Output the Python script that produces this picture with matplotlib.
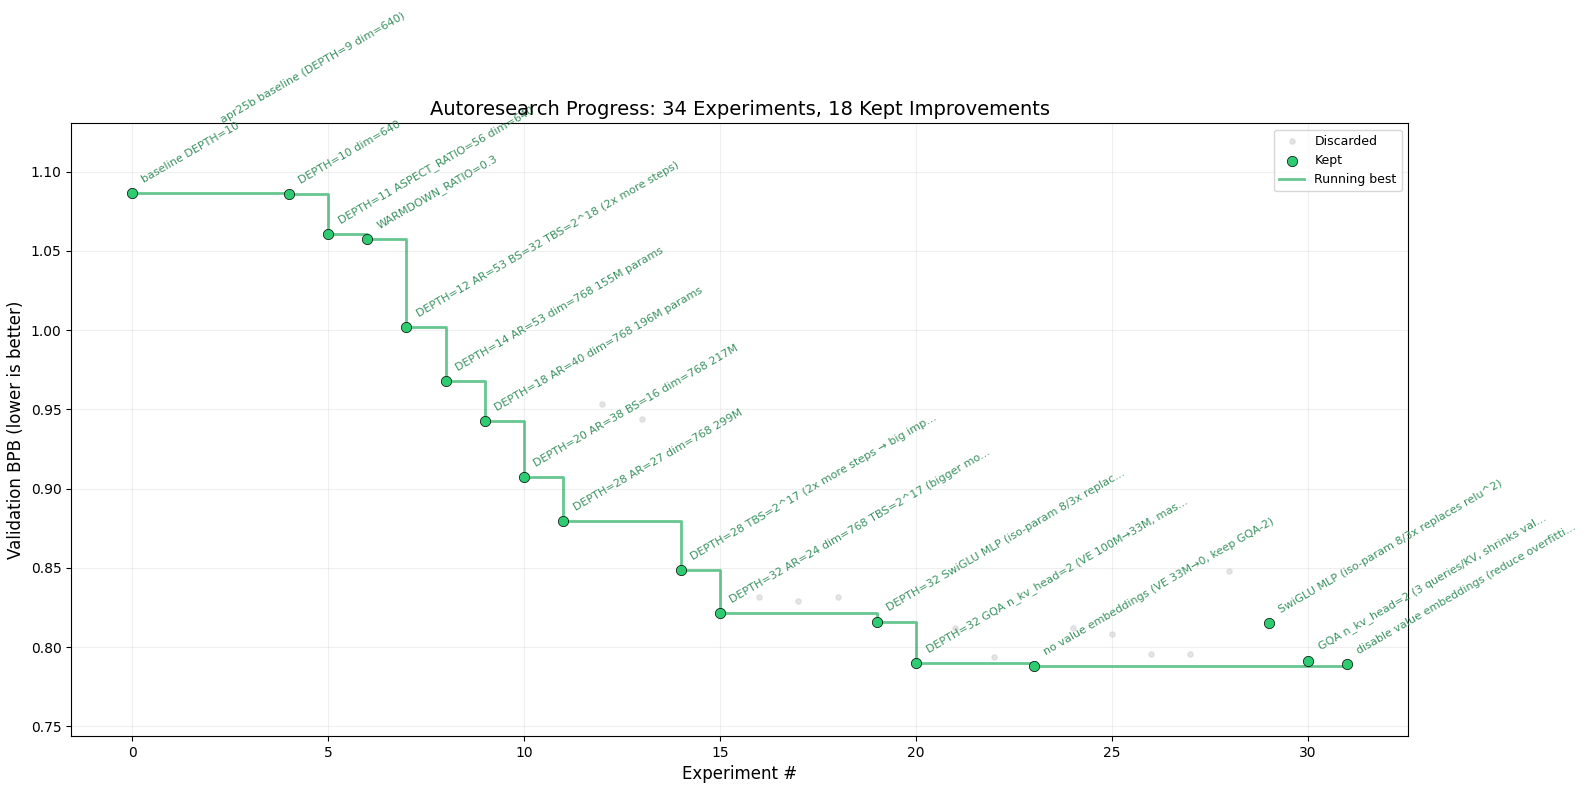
import numpy as np
import matplotlib
matplotlib.use("Agg")
import matplotlib.pyplot as plt

# experiments that were thrown away
disc_x = [12, 13, 16, 17, 18, 21, 22, 24, 25, 26, 27, 28]
disc_bpb = [0.9533, 0.9437, 0.8315, 0.8290, 0.8315, 0.8120, 0.7939, 0.8122, 0.8084, 0.7958, 0.7958, 0.8481]

# kept experiments
kept_x = [0, 4, 5, 6, 7, 8, 9, 10, 11, 14, 15, 19, 20, 23, 29, 30, 31]
kept_bpb = [1.0862, 1.0856, 1.0603, 1.0574, 1.0017, 0.9678, 0.9424, 0.9071, 0.8798,
            0.8487, 0.8214, 0.8161, 0.7899, 0.7884, 0.8151, 0.7914, 0.7893]
kept_desc = [
    "baseline DEPTH=10",
    "DEPTH=10 dim=640",
    "DEPTH=11 ASPECT_RATIO=56 dim=640",
    "WARMDOWN_RATIO=0.3",
    "DEPTH=12 AR=53 BS=32 TBS=2^18 (2x more steps)",
    "DEPTH=14 AR=53 dim=768 155M params",
    "DEPTH=18 AR=40 dim=768 196M params",
    "DEPTH=20 AR=38 BS=16 dim=768 217M",
    "DEPTH=28 AR=27 dim=768 299M",
    "DEPTH=28 TBS=2^17 (2x more steps \u2192 big imp...",
    "DEPTH=32 AR=24 dim=768 TBS=2^17 (bigger mo...",
    "DEPTH=32 SwiGLU MLP (iso-param 8/3x replac...",
    "DEPTH=32 GQA n_kv_head=2 (VE 100M\u219233M, mas...",
    "no value embeddings (VE 33M\u21920, keep GQA-2)",
    "SwiGLU MLP (iso-param 8/3x replaces relu^2)",
    "GQA n_kv_head=2 (3 queries/KV, shrinks val...",
    "disable value embeddings (reduce overfitti...",
]

# kept run whose marker does not show, only its label
extra_x = [2]
extra_bpb = [1.1241]
extra_desc = ["apr25b baseline (DEPTH=9 dim=640)"]

n_exp = 34
n_kept = 18

fig = plt.figure(figsize=(15.85, 7.9), dpi=100)
ax = fig.add_axes([0.045, 0.0684, 0.8432, 0.7755])

ax.scatter(disc_x, disc_bpb, c="#cccccc", s=14, alpha=0.5, zorder=2, label="Discarded")
ax.scatter(kept_x, kept_bpb, c="#2ecc71", s=55, edgecolors="black", linewidths=0.5,
           zorder=4, label="Kept")
best = np.minimum.accumulate(kept_bpb)
ax.step(kept_x, best, where="post", color="#27ae60", alpha=0.7, linewidth=2,
        zorder=3, label="Running best")

for x, y, d in zip(kept_x + extra_x, kept_bpb + extra_bpb, kept_desc + extra_desc):
    ax.annotate(d, (x, y), xytext=(6, 6), textcoords="offset points",
                fontsize=8, color="#2e8b57", alpha=0.95, rotation=30,
                ha="left", va="bottom")

ax.set_ylim(0.744, 1.1304)
ax.set_xlabel("Experiment #", fontsize=12)
ax.set_ylabel("Validation BPB (lower is better)", fontsize=12)
ax.set_title(f"Autoresearch Progress: {n_exp} Experiments, {n_kept} Kept Improvements",
             fontsize=14)
ax.legend(loc="upper right", fontsize=9)
ax.grid(True, alpha=0.2)

fig.savefig("out.png", dpi=100)
